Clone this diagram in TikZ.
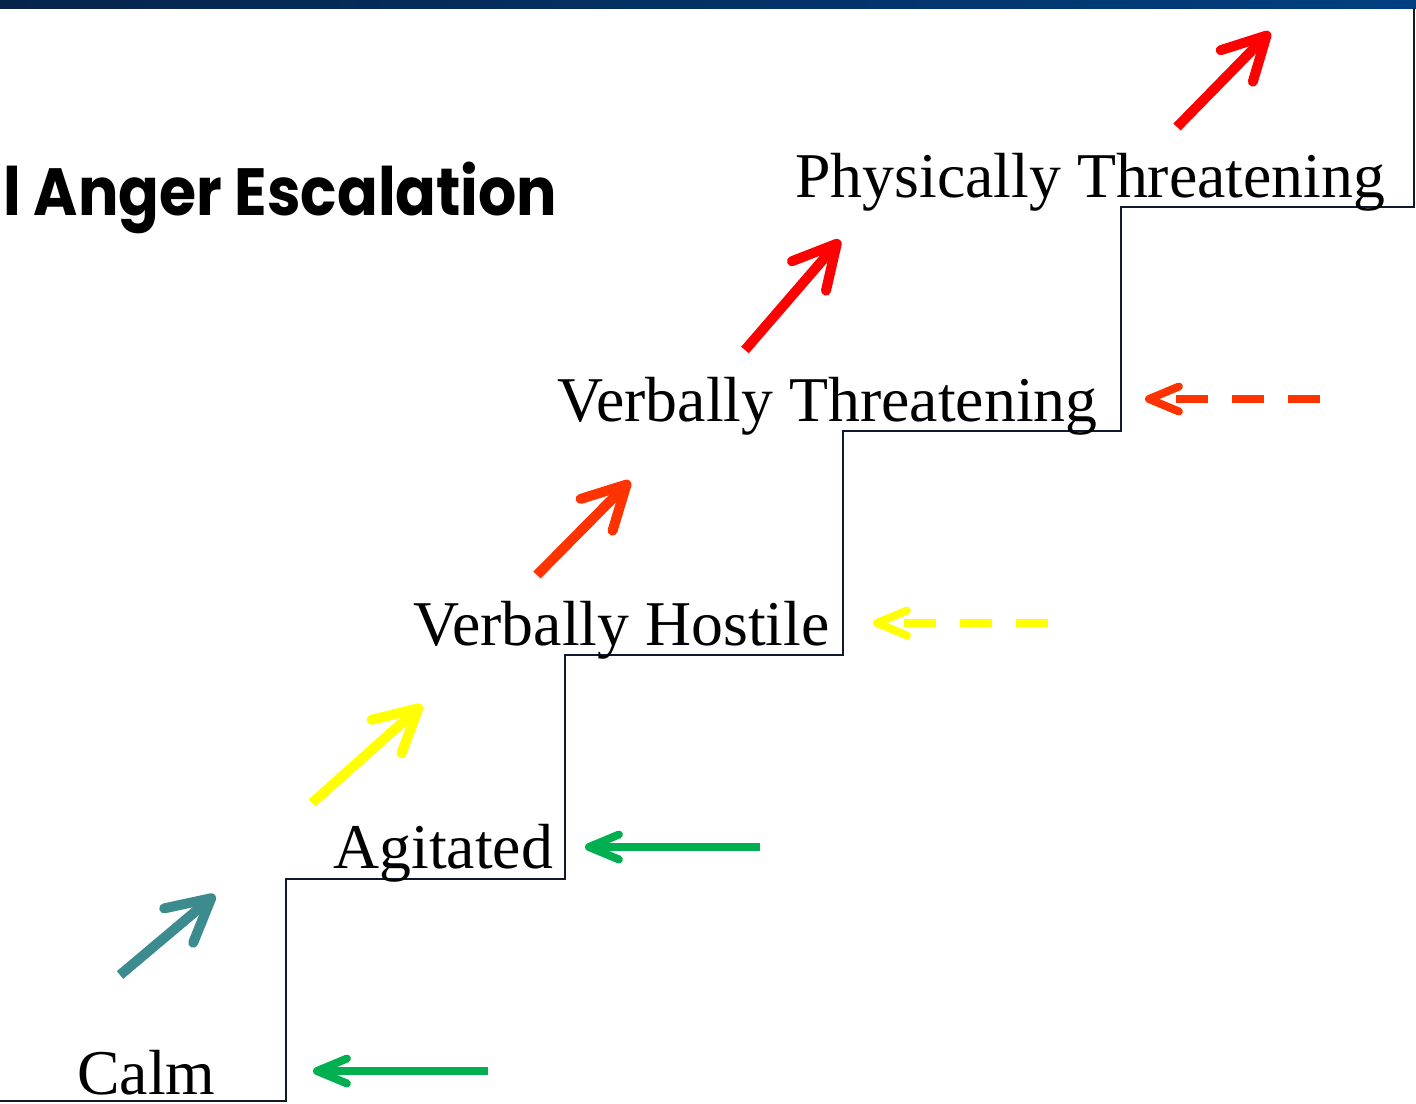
\documentclass[tikz,border=0pt]{standalone}
\usepackage{fontspec}
\setmainfont{Liberation Serif}
\newfontfamily\titlefont{Poppins}
\usetikzlibrary{arrows.meta}

\definecolor{calmteal}{HTML}{3C8C8F}
\definecolor{stepgreen}{HTML}{00B050}
\definecolor{stepyellow}{HTML}{FFFF00}
\definecolor{steporange}{HTML}{FF3300}
\definecolor{stepred}{HTML}{FF0000}
\definecolor{barleft}{HTML}{06244A}
\definecolor{barright}{HTML}{003F80}
\definecolor{stairline}{HTML}{0F1B2D}

\tikzset{
  level/.style={anchor=base west, inner sep=0pt, font=\fontsize{36.3}{40}\selectfont},
  up/.style={line width=0.2cm, -{Straight Barb[round, length=0.85cm, width=0.9cm]}},
  back/.style={line width=0.16cm, -{Straight Barb[round, length=0.6cm, width=0.5cm]}},
  backdash/.style={back, dash pattern=on 0.64cm off 0.48cm}
}

\begin{document}
\begin{tikzpicture}[x=0.02cm, y=-0.02cm]
    \useasboundingbox (0,0) rectangle (1416,1103);
    % top bar
    \shade[left color=barleft, right color=barright] (0,0) rectangle (1416,8);
    % title
    \node[anchor=base west, inner sep=0pt, font=\titlefont\bfseries\fontsize{38}{40}\selectfont] (title) at (3,215) {\scalebox{0.9}[1]{l Anger Escalation}};
    % stairs
    \draw[stairline, line width=0.035cm] (0,1101) -- (286,1101) -- (286,879) -- (565,879)
        -- (565,655) -- (843,655) -- (843,431) -- (1121,431) -- (1121,207)
        -- (1414,207) -- (1414,8);
    % levels
    \node[level] (calm) at (77,1094) {Calm};
    \node[level] (agitated) at (333,868) {Agitated};
    \node[level] (hostile) at (413,645) {Verbally Hostile};
    \node[level] (vthreat) at (557,421) {Verbally Threatening};
    \node[level] (pthreat) at (795,197) {Physically Threatening};
    % arrow ends
    \coordinate (u1s) at (120,975);  \coordinate (u1e) at (215,895);
    \coordinate (u2s) at (312,803);  \coordinate (u2e) at (422,705);
    \coordinate (u3s) at (537,575);  \coordinate (u3e) at (630,481);
    \coordinate (u4s) at (745,350);  \coordinate (u4e) at (840,240);
    \coordinate (u5s) at (1177,127); \coordinate (u5e) at (1270,32);
    \coordinate (b1s) at (488,1071); \coordinate (b1e) at (313,1071);
    \coordinate (b2s) at (760,847);  \coordinate (b2e) at (585,847);
    \coordinate (b3s) at (1048,623); \coordinate (b3e) at (873,623);
    \coordinate (b4s) at (1320,399); \coordinate (b4e) at (1145,399);
    % going up
    \draw[up, calmteal] (u1s) -- (u1e);
    \draw[up, stepyellow] (u2s) -- (u2e);
    \draw[up, steporange] (u3s) -- (u3e);
    \draw[up, stepred] (u4s) -- (u4e);
    \draw[up, stepred] (u5s) -- (u5e);
    % coming back
    \draw[back, stepgreen] (b1s) -- (b1e);
    \draw[back, stepgreen] (b2s) -- (b2e);
    \draw[backdash, stepyellow] (b3s) -- (b3e);
    \draw[backdash, steporange] (b4s) -- (b4e);
\end{tikzpicture}
\end{document}
